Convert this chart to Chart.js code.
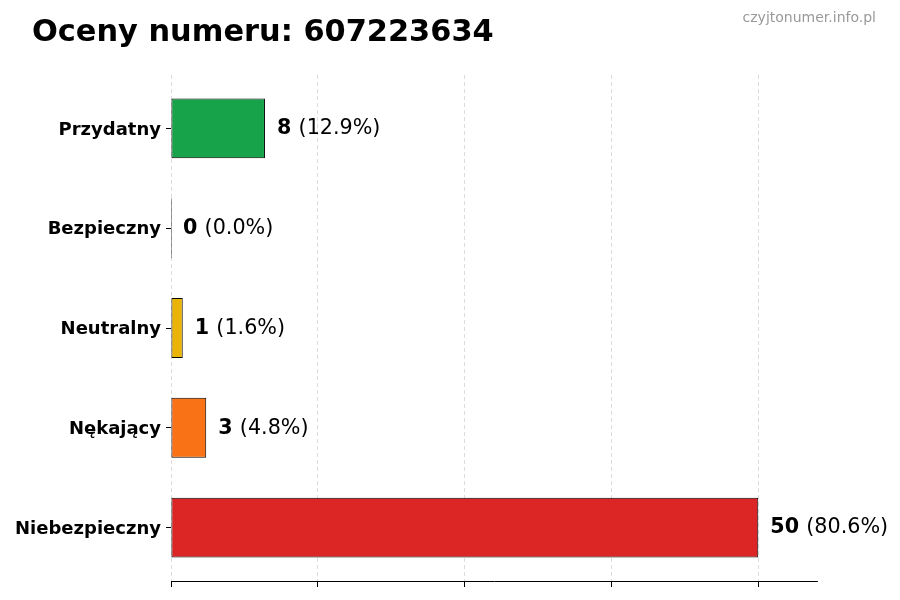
<!DOCTYPE html>
<html>
<head>
<meta charset="utf-8">
<script src="https://cdn.jsdelivr.net/npm/chart.js@4.4.1/dist/chart.umd.min.js"></script>
<style>
html,body{margin:0;padding:0;background:#fff;}
#wrap{width:900px;height:600px;}
</style>
</head>
<body>
<div id="wrap"><canvas id="c" width="900" height="600"></canvas></div>
<script>
const titleText = 'Oceny numeru: 607223634';
const watermark = 'czyjtonumer.info.pl';
const categories = ['Przydatny', 'Bezpieczny', 'Neutralny', 'Nękający', 'Niebezpieczny'];
const counts = [8, 0, 1, 3, 50];
const percents = ['12.9%', '0.0%', '1.6%', '4.8%', '80.6%'];
const barColors = ['#16a34a', '#22c55e', '#eab308', '#f97316', '#dc2626'];
const xTicks = [0, 12.5, 25, 37.5, 50];
const xMax = 55;

const FONT = "'DejaVu Sans', sans-serif";

const overlay = {
  id: 'overlay',
  afterDraw(chart) {
    const ctx = chart.ctx;
    ctx.save();
    ctx.fillStyle = '#000';
    ctx.textBaseline = 'alphabetic';
    ctx.textAlign = 'left';
    ctx.font = 'bold 30.4px ' + FONT;
    ctx.fillText(titleText, 32, 40.5);
    ctx.fillStyle = '#999';
    ctx.textAlign = 'right';
    ctx.font = '14px ' + FONT;
    ctx.fillText(watermark, 876, 22);
    const meta = chart.getDatasetMeta(0);
    const xs = chart.scales.x;
    ctx.textAlign = 'left';
    ctx.textBaseline = 'middle';
    meta.data.forEach((bar, i) => {
      const x = xs.getPixelForValue(counts[i]) + 12;
      const y = bar.y + 0.4;
      ctx.fillStyle = '#000';
      ctx.font = 'bold 20.7px ' + FONT;
      const a = String(counts[i]);
      ctx.fillText(a, x, y);
      const w = ctx.measureText(a + ' ').width;
      ctx.font = '20.7px ' + FONT;
      ctx.fillText('(' + percents[i] + ')', x + w, y);
    });
    ctx.restore();
  }
};

new Chart(document.getElementById('c'), {
  type: 'bar',
  data: {
    datasets: [{
      data: counts.map((v, i) => ({ x: v, y: i })),
      backgroundColor: barColors,
      borderColor: '#000',
      borderWidth: 1,
      borderSkipped: false,
      minBarLength: 1,
      barPercentage: 0.6,
      categoryPercentage: 1.0
    }]
  },
  options: {
    indexAxis: 'y',
    responsive: false,
    animation: false,
    devicePixelRatio: 1,
    layout: { padding: { left: 0, top: 75, right: 83, bottom: 0 } },
    plugins: { legend: { display: false }, tooltip: { enabled: false }, title: { display: false } },
    scales: {
      x: {
        type: 'linear',
        min: 0,
        max: xMax,
        z: 1,
        afterBuildTicks: s => { s.ticks = xTicks.map(v => ({ value: v })); },
        afterFit: s => { s.height = 19; },
        ticks: { display: false },
        grid: {
          display: true,
          color: 'rgba(200,200,200,0.8)',
          lineWidth: 0.8,
          drawTicks: true,
          tickLength: 6,
          tickColor: '#000',
          tickWidth: 1,
          tickBorderDash: []
        },
        border: { display: true, color: '#000', width: 1, dash: [4, 3] }
      },
      y: {
        type: 'linear',
        reverse: true,
        offset: false,
        min: -0.535,
        max: 4.535,
        afterFit: s => { s.width = 171; },
        afterBuildTicks: s => { s.ticks = categories.map((c, i) => ({ value: i })); },
        ticks: {
          color: '#000',
          font: { family: FONT, size: 18, weight: 'bold' },
          padding: 5,
          labelOffset: 1.5,
          callback: (v) => categories[v]
        },
        grid: {
          offset: false,
          drawOnChartArea: false,
          drawTicks: true,
          tickLength: 5,
          tickColor: '#000',
          tickWidth: 1
        },
        border: { display: false }
      }
    }
  },
  plugins: [overlay]
});
</script>
</body>
</html>
